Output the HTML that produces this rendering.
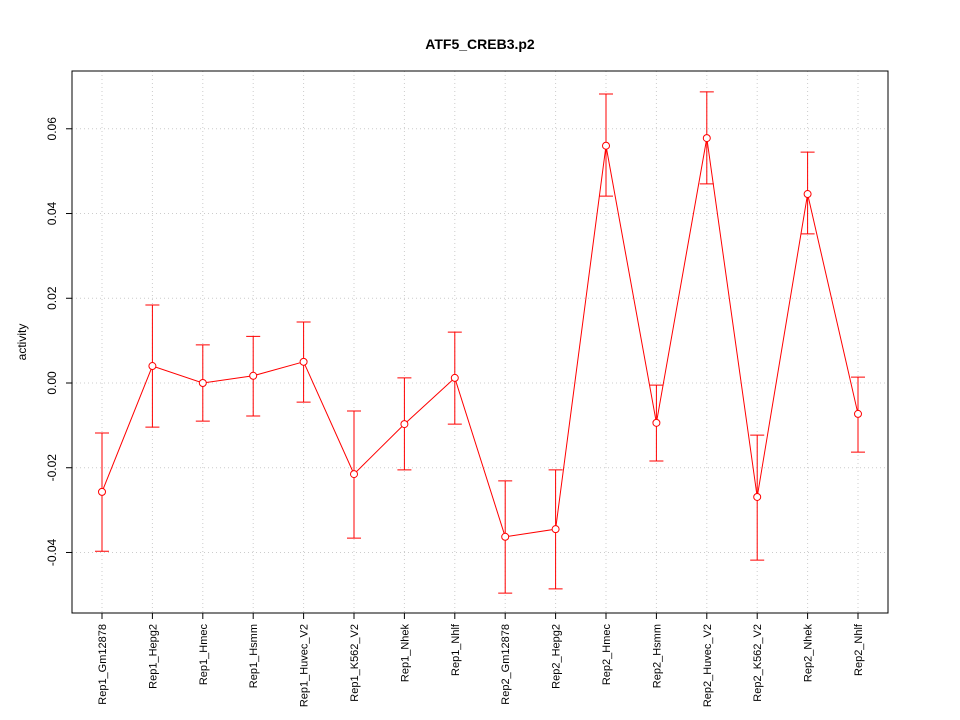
<!DOCTYPE html>
<html><head><meta charset="utf-8"><style>body{margin:0;background:#fff}svg{display:block;font-family:"Liberation Sans",sans-serif}</style></head>
<body>
<svg id="chart" width="960" height="720">
<text x="480" y="49" text-anchor="middle" font-size="14" font-weight="bold">ATF5_CREB3.p2</text>
<text transform="translate(26,342) rotate(-90)" text-anchor="middle" font-size="12">activity</text>
<g id="grid"></g><g id="axes"></g><g id="marks"></g>
<rect x="72" y="71" width="816" height="542" fill="none" stroke="#000"/>
</svg>
<script>
const categories=["Rep1_Gm12878","Rep1_Hepg2","Rep1_Hmec","Rep1_Hsmm","Rep1_Huvec_V2","Rep1_K562_V2","Rep1_Nhek","Rep1_Nhlf","Rep2_Gm12878","Rep2_Hepg2","Rep2_Hmec","Rep2_Hsmm","Rep2_Huvec_V2","Rep2_K562_V2","Rep2_Nhek","Rep2_Nhlf"];
const values=[-0.0257,0.004,0.0,0.0017,0.005,-0.0215,-0.0097,0.0012,-0.0363,-0.0345,0.056,-0.0094,0.0578,-0.0269,0.0446,-0.0073];
const upper=[-0.0118,0.0184,0.009,0.011,0.0144,-0.0066,0.0012,0.012,-0.0231,-0.0205,0.0682,-0.0005,0.0687,-0.0123,0.0545,0.0014];
const lower=[-0.0397,-0.0104,-0.009,-0.0078,-0.0045,-0.0366,-0.0205,-0.0097,-0.0496,-0.0486,0.0441,-0.0184,0.047,-0.0418,0.0352,-0.0163];
const yTicks=[-0.04,-0.02,0.00,0.02,0.04,0.06];
const yTickLabels=["-0.04","-0.02","0.00","0.02","0.04","0.06"];
const NS="http://www.w3.org/2000/svg";
const xs=i=>102+i*(858-102)/(categories.length-1);
const ys=v=>383-v*4237;
function mk(p,t,a){const e=document.createElementNS(NS,t);for(const k in a)e.setAttribute(k,a[k]);document.getElementById(p).appendChild(e);return e;}
yTicks.forEach((v,i)=>{
 let g=mk('grid','line',{x1:72,x2:888,y1:ys(v),y2:ys(v),stroke:'#ccc','stroke-dasharray':'1,3'});
 
 
 let t=mk('axes','line',{x1:66,x2:72,y1:ys(v),y2:ys(v),stroke:'#000'});
 
 
 let l=mk('axes','text',{transform:`translate(56,${ys(v)}) rotate(-90)`,'text-anchor':'middle','font-size':12});
 l.textContent=yTickLabels[i];
 
 
});
categories.forEach((c,i)=>{
 const x=xs(i);
 let g=mk('grid','line',{x1:x,x2:x,y1:71,y2:613,stroke:'#ccc','stroke-dasharray':'1,3'});
 
 
 let t=mk('axes','line',{x1:x,x2:x,y1:613,y2:619,stroke:'#000'});
 
 
 let l=mk('axes','text',{transform:`translate(${x+4},624) rotate(-90)`,'text-anchor':'end','font-size':11});
 l.textContent=c;
 
 
});
let pts=values.map((v,i)=>xs(i)+','+ys(v)).join(' ');
let pl=mk('marks','polyline',{points:pts,fill:'none',stroke:'#f00'});


values.forEach((v,i)=>{
 const x=xs(i);
 let e=mk('marks','path',{d:`M${x},${ys(upper[i])}V${ys(lower[i])}M${x-7},${ys(upper[i])}H${x+7}M${x-7},${ys(lower[i])}H${x+7}`,stroke:'#f00',fill:'none'});
 
 
 let p=mk('marks','circle',{cx:x,cy:ys(v),r:3.5,fill:'#fff',stroke:'#f00'});
 
 
});
</script>
</body></html>
